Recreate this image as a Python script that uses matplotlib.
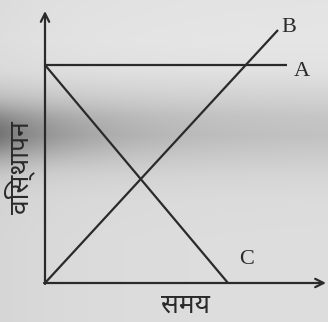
import matplotlib
matplotlib.use("Agg")
import matplotlib.pyplot as plt
import numpy as np

# Data (arbitrary units, origin at axes corner)
A_t = [0, 242]
A_s = [218, 218]
B_t = [0, 233]
B_s = [0, 253]
C_t = [0, 183]
C_s = [218, 0]
labels = ["A", "B", "C"]
xlabel = "समय"
ylabel = "विस्थापन"

W, H = 328, 322
fig = plt.figure(figsize=(W / 100, H / 100), dpi=100)

# scanned-paper background
bg = fig.add_axes([0, 0, 1, 1])
rows = np.array([0, 40, 70, 95, 115, 135, 155, 175, 200, 240, 322])
vals = np.array([228, 230, 226, 212, 200, 196, 205, 214, 220, 222, 222])
yy = np.arange(H)
prof = np.interp(yy, rows, vals)
xx = np.arange(W)
left = np.exp(-xx / 90.0)
band = np.exp(-((yy - 132) / 28.0) ** 2)
img = prof[:, None] - 70 * band[:, None] * left[None, :] - 8 * left[None, :]
img = np.clip(img, 0, 255) / 255.0
bg.imshow(np.dstack([img, img, img]), aspect="auto", extent=[0, W, H, 0])
bg.set_axis_off()

x0, y0 = 45, 283
ax = fig.add_axes([x0 / W, (H - y0) / H, (W - x0) / W, (y0 - 8) / H])
ax.set_xlim(0, W - x0)
ax.set_ylim(0, y0 - 8)
ax.patch.set_alpha(0)
for s in ax.spines.values():
    s.set_visible(False)
ax.set_xticks([])
ax.set_yticks([])

lc = "#2a2a2a"
lw = 1.6
ax.plot(A_t, A_s, color=lc, lw=lw, solid_capstyle="butt")
ax.plot(B_t, B_s, color=lc, lw=lw, solid_capstyle="butt")
ax.plot(C_t, C_s, color=lc, lw=lw, solid_capstyle="butt")

# axes with arrows
ax.annotate("", xy=(W - x0 - 2, 0), xytext=(-1, 0),
            arrowprops=dict(arrowstyle="->,head_length=0.6,head_width=0.3", color=lc, lw=lw,
                            shrinkA=0, shrinkB=0))
ax.annotate("", xy=(0, y0 - 11), xytext=(0, -1),
            arrowprops=dict(arrowstyle="->,head_length=0.6,head_width=0.3", color=lc, lw=lw,
                            shrinkA=0, shrinkB=0))

serif = ["Liberation Serif", "DejaVu Serif"]
ax.text(A_t[1] + 7, A_s[1] - 7, labels[0], fontsize=16, family=serif, color=lc,
        ha="left", va="center")
ax.text(B_t[1] + 3, B_s[1] + 3, labels[1], fontsize=16, family=serif, color=lc,
        ha="left", va="center")
ax.text(C_t[1] + 11, C_s[1] + 24, labels[2], fontsize=16, family=serif, color=lc,
        ha="left", va="center")

dev = ["Noto Sans Devanagari", "DejaVu Sans"]
fig.text(185 / W, 1 - 306 / H, xlabel, fontsize=19, family=dev, color=lc,
         ha="center", va="center")
fig.text(20 / W, 1 - 168 / H, ylabel, fontsize=19, family=dev, color=lc,
         ha="center", va="center", rotation=90)

fig.savefig("out.png", dpi=100)
